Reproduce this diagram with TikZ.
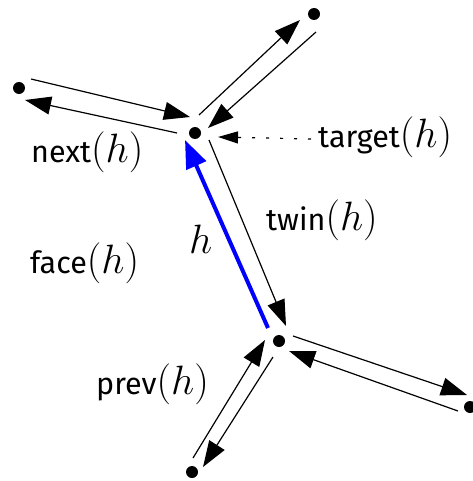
\RequirePackage{fix-cm}
\documentclass[tikz,border=0pt]{standalone}
\usepackage{fontspec}
\setsansfont{Fira Sans}
\usetikzlibrary{arrows.meta}
\newcommand\mparh{{\fontsize{41}{44}\selectfont$(h)$}}
\newcommand\mhh{{\fontsize{41}{44}\selectfont$h$}}
\begin{document}
\begin{tikzpicture}[x=1pt,y=-1pt,
  vertex/.style={circle,fill=black,inner sep=0pt,minimum size=12pt},
  half/.style={line width=1.2pt,-{Triangle[length=26pt,width=18pt]}},
  hedge/.style={line width=4pt,draw=blue,-{Triangle[length=28pt,width=21pt]}},
  pointer/.style={line width=1.2pt,dash pattern=on 3pt off 11pt,-{Triangle[length=20pt,width=12pt]}},
  lbl/.style={font=\fontsize{30.5}{34}\selectfont\sffamily,inner sep=0pt,anchor=base west}]
\useasboundingbox (0,0) rectangle (472,481);
% vertices
\node[vertex] (A) at (195,133) {};
\node[vertex] (B) at (314,14) {};
\node[vertex] (C) at (19,88) {};
\node[vertex] (D) at (279,341) {};
\node[vertex] (E) at (470,407) {};
\node[vertex] (F) at (192,472) {};
% half-edge end points
\coordinate (ca1) at (31,79);   \coordinate (ca2) at (190,117);
\coordinate (ac1) at (177,133); \coordinate (ac2) at (25,100);
\coordinate (ab1) at (199,115); \coordinate (ab2) at (300,20);
\coordinate (ba1) at (316,32);  \coordinate (ba2) at (208,128);
\coordinate (h1) at (268,328);  \coordinate (h2) at (185,140);
\coordinate (tw1) at (209,140); \coordinate (tw2) at (286,326);
\coordinate (de1) at (293,336); \coordinate (de2) at (467,395);
\coordinate (ed1) at (458,411); \coordinate (ed2) at (289,351);
\coordinate (fd1) at (193,458); \coordinate (fd2) at (265,340);
\coordinate (df1) at (273,357); \coordinate (df2) at (203,467);
\coordinate (tg1) at (311,139); \coordinate (tg2) at (218,137);
% half-edges
\draw[half] (ca1) -- (ca2);
\draw[half] (ac1) -- (ac2);
\draw[half] (ab1) -- (ab2);
\draw[half] (ba1) -- (ba2);
\draw[half] (tw1) -- (tw2);
\draw[half] (de1) -- (de2);
\draw[half] (ed1) -- (ed2);
\draw[half] (fd1) -- (fd2);
\draw[half] (df1) -- (df2);
\draw[hedge] (h1) -- (h2);
\draw[pointer] (tg1) -- (tg2);
% labels
\node[lbl] (next) at (31,163) {next\mparh};
\node[lbl] (target) at (318,148) {target\mparh};
\node[lbl] (twin) at (266,230) {twin\mparh};
\node[lbl] (h) at (189,253) {\mhh};
\node[lbl] (face) at (30,273) {face\mparh};
\node[lbl] (prev) at (96,394) {prev\mparh};
\end{tikzpicture}
\end{document}
